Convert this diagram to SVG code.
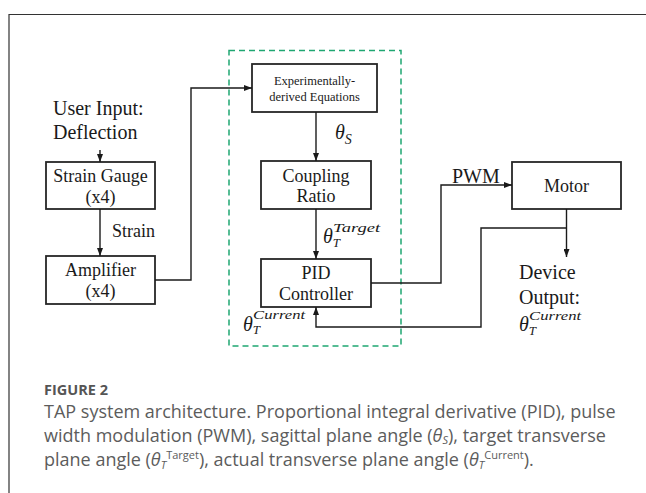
<svg xmlns="http://www.w3.org/2000/svg" width="646" height="493" viewBox="0 0 646 493">
<defs>
<marker id="arr" markerUnits="userSpaceOnUse" markerWidth="8" markerHeight="6" refX="8" refY="3" orient="auto">
<path d="M0,0 L8,3 L0,6 z" fill="#1a1a1a"/>
</marker>
<style>
.box{fill:#fff;stroke:#262626;stroke-width:1.8}
.t{font-family:"Liberation Serif","Times New Roman",serif;fill:#1a1a1a;text-anchor:middle}
.ts{font-family:"Liberation Serif","Times New Roman",serif;fill:#1a1a1a}
.m{font-family:"Liberation Serif","Times New Roman",serif;font-style:italic;fill:#1a1a1a}
.c{fill:none;stroke:#1a1a1a;stroke-width:1.4}
.cap{font-family:"Open Sans","Noto Sans",sans-serif;fill:#5c5c5c;font-size:18px}
</style>
</defs>
<rect width="646" height="493" fill="#fff"/>
<path d="M9,493 V14.5 H646" fill="none" stroke="#333" stroke-width="1.2"/>
<rect id="subsystem" x="229" y="50.5" width="172" height="295.5" fill="none" stroke="#1fa672" stroke-width="1.5" stroke-dasharray="6 4"/>

<g id="user-input">
<text class="ts" x="53" y="115" font-size="20">User Input:</text>
<text class="ts" x="53" y="139" font-size="20">Deflection</text>
</g>
<g id="strain-gauge">
<rect class="box" x="46" y="162" width="109" height="47"/>
<text class="t" x="100.5" y="182" font-size="18">Strain Gauge</text>
<text class="t" x="100.5" y="203" font-size="18">(x4)</text>
</g>
<g id="amplifier">
<rect class="box" x="46" y="256" width="109" height="48"/>
<text class="t" x="100.5" y="276" font-size="18">Amplifier</text>
<text class="t" x="100.5" y="297" font-size="18">(x4)</text>
</g>
<g id="equations">
<rect class="box" x="252" y="64" width="125" height="48"/>
<text class="t" x="314.5" y="85" font-size="12.5">Experimentally-</text>
<text class="t" x="314.5" y="101" font-size="12.5">derived Equations</text>
</g>
<g id="coupling">
<rect class="box" x="261" y="161" width="110" height="48"/>
<text class="t" x="316" y="182" font-size="18">Coupling</text>
<text class="t" x="316" y="202" font-size="18">Ratio</text>
</g>
<g id="pid">
<rect class="box" x="261" y="259" width="110" height="48"/>
<text class="t" x="316" y="279" font-size="18">PID</text>
<text class="t" x="316" y="300" font-size="18">Controller</text>
</g>
<g id="motor">
<rect class="box" x="512" y="162" width="109" height="47"/>
<text class="t" x="566.5" y="192" font-size="18">Motor</text>
</g>
<g id="device-output">
<text class="ts" x="519" y="279" font-size="20">Device</text>
<text class="ts" x="519" y="304" font-size="20">Output:</text>
<text class="m" x="519" y="331" font-size="20">θ<tspan font-size="13" dy="3.5">T</tspan><tspan font-size="12.5" dx="-7" dy="-15" textLength="52" lengthAdjust="spacingAndGlyphs">Current</tspan></text>
</g>

<g id="connectors">
<line class="c" x1="100" y1="150" x2="100" y2="162" marker-end="url(#arr)"/>
<line class="c" x1="100" y1="209" x2="100" y2="256" marker-end="url(#arr)"/>
<path class="c" d="M155,280 H191 V88 H252" marker-end="url(#arr)"/>
<line class="c" x1="316" y1="112" x2="316" y2="161" marker-end="url(#arr)"/>
<line class="c" x1="316" y1="209" x2="316" y2="259" marker-end="url(#arr)"/>
<path class="c" d="M371,283 H441 V185 H512" marker-end="url(#arr)"/>
<line class="c" x1="566.5" y1="209" x2="566.5" y2="257" marker-end="url(#arr)"/>
<path class="c" d="M566.5,228 H481 V327 H316 V307" marker-end="url(#arr)"/>
</g>

<g id="labels">
<text class="ts" x="112" y="237" font-size="18">Strain</text>
<text class="m" x="335" y="139" font-size="20">θ<tspan font-size="14" dy="5">S</tspan></text>
<text class="m" x="323" y="243" font-size="20">θ<tspan font-size="13" dy="4">T</tspan><tspan font-size="13" dx="-7" dy="-15" textLength="47" lengthAdjust="spacingAndGlyphs">Target</tspan></text>
<text class="ts" x="452" y="183" font-size="20">PWM</text>
<text class="m" x="243" y="331" font-size="20">θ<tspan font-size="13" dy="3">T</tspan><tspan font-size="13" dx="-7" dy="-15" textLength="52" lengthAdjust="spacingAndGlyphs">Current</tspan></text>
</g>

<g id="caption">
<text x="44" y="395" font-family="'Open Sans','Noto Sans',sans-serif" font-weight="bold" font-size="14.5" fill="#555">FIGURE 2</text>
<text class="cap" x="44" y="418">TAP system architecture. Proportional integral derivative (PID), pulse</text>
<text class="cap" x="44" y="442">width modulation (PWM), sagittal plane angle (<tspan font-style="italic">θ</tspan><tspan font-size="11" font-style="italic" dy="2">S</tspan><tspan dy="-2">), target transverse</tspan></text>
<text class="cap" x="44" y="466">plane angle (<tspan font-style="italic">θ</tspan><tspan font-size="11" font-style="italic" dy="3">T</tspan><tspan font-size="11" dy="-10">Target</tspan><tspan dy="7">), actual transverse plane angle (</tspan><tspan font-style="italic">θ</tspan><tspan font-size="11" font-style="italic" dy="3">T</tspan><tspan font-size="11" dy="-10">Current</tspan><tspan dy="7">).</tspan></text>
</g>
</svg>
